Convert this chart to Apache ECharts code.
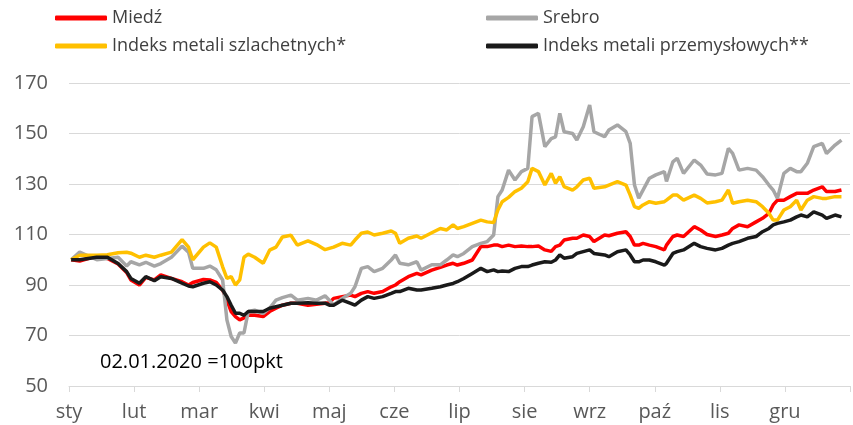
<!DOCTYPE html>
<html>
<head>
<meta charset="utf-8">
<script src="https://cdn.jsdelivr.net/npm/echarts@6/dist/echarts.min.js"></script>
<style>
  html, body { margin: 0; padding: 0; background: #fff; }
  #main { width: 853px; height: 425px; }
</style>
</head>
<body>
<div id="main"></div>
<script>
// dzien roku 2020 (0 = 1 stycznia)
var dni = [1, 5, 13, 18, 23, 27, 29, 33, 36, 40, 43, 48, 53, 56, 58,
  63, 66, 69, 72, 74, 76, 78, 80, 82, 84, 87, 91, 94, 97, 100, 104, 107, 112, 116, 120,
  122, 124, 128, 132, 134, 137, 140, 143, 147, 151, 153, 155, 159, 163, 165, 170, 174, 177, 180,
  182, 185, 189, 193, 196, 199, 201, 203, 206, 209, 212, 215, 217, 220, 223, 226, 228, 230, 232, 236,
  238, 241, 244, 246, 251, 253, 257, 261, 263, 265, 267, 269, 272, 275, 279, 280, 283, 285, 288, 293, 296,
  299, 303, 306, 309, 311, 314, 318, 322, 325, 328, 330, 332, 335, 338, 341, 343, 346, 349, 353, 355, 359, 362];

// ostatnia pusta pozycja = 1 stycznia 2021 (koniec osi)
var miesiace = ['sty', 'lut', 'mar', 'kwi', 'maj', 'cze', 'lip', 'sie', 'wrz', 'paź', 'lis', 'gru', ''];

var miedz = [100, 99.5, 101.5, 100.5, 98.3, 95, 92, 90, 93, 92, 94, 92.6, 91.3, 90, 91,
  92.2, 92, 91, 88, 84, 79.5, 77.5, 76.2, 77, 78, 78, 77.5, 79.5, 80.8, 82, 82.8, 82.8, 82, 82.4, 82.8,
  83, 84.7, 85.4, 86, 85.4, 86.7, 87.4, 86.7, 87.4, 89.3, 90, 91.3, 93.3, 94.6, 94, 95.9, 97, 97.9, 98.6,
  97.9, 98.6, 99.9, 105.2, 105.2, 105.8, 105.8, 105.2, 105.8, 105.2, 105.4, 105.2, 105.2, 105.4, 103.9, 103.3, 105.2, 105.8, 107.8, 108.5,
  108.5, 109.8, 109.2, 107.2, 109.8, 109.5, 110.5, 111.1, 109.2, 105.8, 105.8, 106.5, 105.8, 105.2, 103.9, 105.8, 109.2, 109.8, 109.2, 113.1, 111.8,
  110, 109.2, 109.8, 110.5, 112.4, 113.8, 113.1, 115, 116.4, 118.4, 121.7, 123.6, 123.6, 125, 126.3, 126.3, 126.3, 127.6, 128.9, 127, 127, 127.6];

var srebro = [100, 103, 100, 100.5, 101, 97.5, 99.2, 98, 99, 97.5, 98.5, 101, 105.4, 103, 96.6,
  96.6, 97.5, 96, 92, 76.2, 69.6, 67, 71, 71, 79.5, 80, 78.8, 80.8, 84, 85, 86, 84, 84.7, 84, 85.7,
  84, 82, 84.7, 86.7, 89.3, 96.6, 97.3, 95.3, 96.6, 99.9, 101.9, 98.6, 98, 99.2, 95.9, 98, 98, 99.9, 101.9,
  101.2, 102.5, 105.2, 106.5, 107.2, 109.8, 125, 127.6, 135.5, 131.6, 134.9, 136.2, 156.7, 158, 144.8, 148, 148.7, 158, 150.7, 150,
  147.4, 152.7, 161.3, 150.7, 148.7, 151.4, 153.4, 150.7, 146.1, 129.6, 124.4, 127.6, 132.3, 133.6, 134.9, 131, 138.8, 140.2, 134.2, 139.5, 137.5,
  134, 133.6, 134.2, 144.1, 142.1, 135.5, 136.2, 135.5, 132.9, 129.6, 127.6, 124.3, 134.2, 136.2, 134.9, 134.9, 138.2, 144.8, 146.1, 142.1, 145.4, 147.4];

var szlachetne = [100, 101.8, 101.8, 102, 102.8, 103, 102.6, 101, 101.8, 101, 101.8, 103, 108, 105, 100,
  105, 106.7, 105, 97.2, 92.6, 93.3, 90, 92, 101, 102.2, 101, 98.6, 103.8, 105, 109, 109.7, 105.8, 107.5, 106, 104,
  104.5, 105, 106.5, 105.8, 107.8, 110.5, 111, 109.8, 110.5, 111.4, 110.5, 106.5, 108.5, 109.4, 108.5, 110.7, 112.4, 111.8, 113.8,
  112.4, 113.1, 114.4, 115.7, 115, 114.7, 119.7, 123, 124.7, 127, 128.3, 130.9, 136.2, 134.9, 129.6, 134.2, 130.3, 132.9, 129, 127.6,
  128.9, 131.6, 132.3, 128.3, 128.9, 129.6, 130.9, 129.6, 125.6, 121, 120.4, 121.7, 123, 122.4, 123, 123.6, 125.6, 125.6, 123.6, 125.6, 124.3,
  122.5, 123, 123.6, 127.6, 122.4, 123, 123.6, 123, 121, 118.4, 115.7, 115.7, 119.7, 121, 123.6, 119.7, 123.6, 125, 124.3, 124.3, 125, 125];

var przemyslowe = [100, 100, 101, 101, 98.5, 95.3, 92.6, 90.7, 93.3, 91.7, 93.3, 92.6, 90.7, 89.6, 89.3,
  90.7, 91.3, 90, 88, 85.4, 82, 78.8, 78.8, 78, 79.5, 79.5, 79.5, 80.8, 81.4, 82, 82.8, 82.8, 83, 82.8, 82.8,
  82, 82, 84, 82.7, 82, 84, 85.4, 84.7, 85.4, 86.7, 87.4, 87.4, 88.7, 88, 88, 88.7, 89.3, 90, 90.6,
  91.3, 92.6, 94.6, 96.6, 95.3, 96, 95.3, 95.5, 95.3, 96.6, 97.3, 97.3, 97.9, 98.6, 99.2, 99, 99.9, 101.9, 100.6, 101.2,
  102.5, 103.2, 103.9, 102.5, 101.9, 101.2, 103.2, 103.9, 101.9, 99.2, 99.2, 99.9, 99.9, 99.2, 97.9, 98.6, 102.5, 103.2, 103.9, 106.5, 105.2,
  104.5, 103.9, 104.5, 105.8, 106.5, 107.2, 108.5, 109.2, 111.1, 112.4, 113.8, 114.4, 115, 115.7, 117, 117.7, 117, 119, 117.7, 116.4, 117.7, 117];

function pary(values) {
  return values.map(function (v, i) { return [dni[i], v]; });
}

function linia(name, values, color) {
  return {
    name: name,
    type: 'line',
    xAxisIndex: 0,
    data: pary(values),
    showSymbol: false,
    symbol: 'none',
    lineStyle: { color: color, width: 3.5 },
    itemStyle: { color: color }
  };
}

var chartDom = document.getElementById('main');
var myChart = echarts.init(chartDom);
var option;

var legendText = { color: '#404040', fontSize: 18, fontFamily: 'Open Sans', lineHeight: 20 };

option = {
  animation: false,
  textStyle: { fontFamily: 'Open Sans' },
  legend: [
    {
      orient: 'vertical', left: 55, top: 8, itemGap: 8, padding: 0,
      icon: 'roundRect', itemWidth: 52, itemHeight: 5,
      textStyle: legendText,
      data: ['Miedź', 'Indeks metali szlachetnych*']
    },
    {
      orient: 'vertical', left: 486, top: 8, itemGap: 8, padding: 0,
      icon: 'roundRect', itemWidth: 52, itemHeight: 5,
      textStyle: legendText,
      data: ['Srebro', 'Indeks metali przemysłowych**']
    }
  ],
  grid: { left: 69, right: -8, top: 83, bottom: 39 },
  xAxis: [
    {
      type: 'value', min: 0, max: 366,
      show: false
    },
    {
      type: 'category',
      data: miesiace,
      boundaryGap: false,
      position: 'bottom',
      axisLine: { lineStyle: { color: '#d9d9d9', width: 1 } },
      axisTick: { show: true, interval: 0, length: 6, lineStyle: { color: '#d9d9d9' } },
      axisLabel: { interval: 0, color: '#595959', fontSize: 20, margin: 16 },
      splitLine: { show: false }
    }
  ],
  yAxis: {
    type: 'value', min: 50, max: 170, interval: 20,
    axisLine: { show: false },
    axisTick: { show: false },
    axisLabel: { color: '#595959', fontSize: 20, margin: 21 },
    splitLine: { lineStyle: { color: '#d9d9d9', width: 1 } }
  },
  graphic: [
    {
      type: 'text', left: 100, top: 352,
      style: { text: '02.01.2020 =100pkt', fill: '#000', fontSize: 20, fontFamily: 'Open Sans' }
    }
  ],
  series: [
    linia('Miedź', miedz, '#ff0000'),
    linia('Srebro', srebro, '#a6a6a6'),
    linia('Indeks metali szlachetnych*', szlachetne, '#ffc000'),
    linia('Indeks metali przemysłowych**', przemyslowe, '#1a1a1a')
  ]
};

option && myChart.setOption(option);
</script>
</body>
</html>
